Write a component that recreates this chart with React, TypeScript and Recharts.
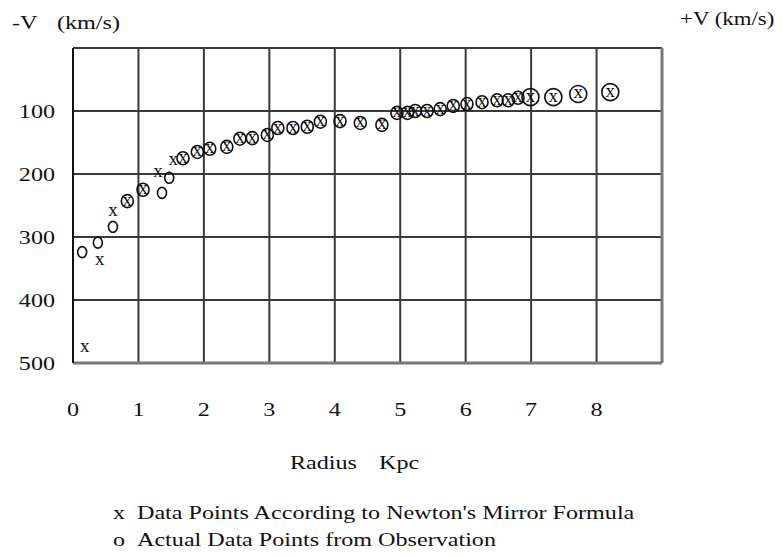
import React from 'react';
import { ScatterChart, Scatter, XAxis, YAxis, CartesianGrid } from 'recharts';

// Newton's mirror formula points (x marks): radius in Kpc, -V in km/s
const radiusNewton = [0.18, 0.41, 0.61, 0.83, 1.07, 1.30, 1.53, 1.68, 1.90, 2.09, 2.35, 2.55, 2.74, 2.97, 3.13, 3.36, 3.58, 3.78, 4.08, 4.39, 4.72, 4.95, 5.11, 5.23, 5.41, 5.61, 5.81, 6.02, 6.25, 6.48, 6.65, 6.80, 6.99, 7.34, 7.72, 8.21];
const velocityNewton = [476, 338, 260, 243, 225, 198, 178, 175, 165, 160, 157, 144, 143, 138, 127, 127, 125, 117, 116, 119, 122, 103, 103, 100, 100, 97, 92, 89, 86, 83, 83, 79, 78, 78, 73, 70];

// Observed points (o marks)
const radiusObserved = [0.14, 0.38, 0.61, 0.83, 1.07, 1.36, 1.47, 1.68, 1.90, 2.09, 2.35, 2.55, 2.74, 2.97, 3.13, 3.36, 3.58, 3.78, 4.08, 4.39, 4.72, 4.95, 5.11, 5.23, 5.41, 5.61, 5.81, 6.02, 6.25, 6.48, 6.65, 6.80, 6.99, 7.34, 7.72, 8.21];
const velocityObserved = [324, 309, 284, 243, 225, 230, 206, 175, 165, 160, 157, 144, 143, 138, 127, 127, 125, 117, 116, 119, 122, 103, 103, 100, 100, 97, 92, 89, 86, 83, 83, 79, 78, 78, 73, 70];

const xTickValues = [0, 1, 2, 3, 4, 5, 6, 7, 8, 9];
const xTickLabels = ['0', '1', '2', '3', '4', '5', '6', '7', '8', ''];
const leftTickValues = [0, 100, 200, 300, 400, 500];
const leftTickLabels = ['', '100', '200', '300', '400', '500'];
const rightTickValues = [60, 124, 187, 256, 348];
const rightTickLabels = ['80', '60', '40', '20', '0'];

const newtonData = radiusNewton.map((r, i) => ({ r, v: velocityNewton[i] }));
const observedData = radiusObserved.map((r, i) => ({
  r,
  v: velocityObserved[i],
  alone: !newtonData.some((n) => n.r === r && n.v === velocityObserved[i]),
}));

const FONT = "'Liberation Serif', 'Times New Roman', serif";
const SX = 1.27;
const INK = '#111';

function SText({ x, y, anchor = 'start', size = 19, children }: any) {
  return (
    <text
      transform={`translate(${x},${y}) scale(${SX},1)`}
      textAnchor={anchor}
      fontFamily={FONT}
      fontSize={size}
      fill={INK}
    >
      {children}
    </text>
  );
}

const XTick = (props: any) => {
  const { x, y, payload } = props;
  const idx = xTickValues.indexOf(payload.value);
  return <SText x={x} y={y + 53} anchor="middle">{xTickLabels[idx]}</SText>;
};

const LeftTick = (props: any) => {
  const { x, y, payload } = props;
  const idx = leftTickValues.indexOf(payload.value);
  return <SText x={x - 18} y={y + 6.5} anchor="end">{leftTickLabels[idx]}</SText>;
};

const RightTick = (props: any) => {
  const { x, y, payload } = props;
  const idx = rightTickValues.indexOf(payload.value);
  return <SText x={x + 29} y={y + 6.5} anchor="end">{rightTickLabels[idx]}</SText>;
};

const NewtonMark = (props: any) => {
  const { cx, cy } = props;
  return (
    <text x={cx} y={cy} dy={4.5} textAnchor="middle" fontFamily={FONT} fontSize={19} fill={INK}>
      x
    </text>
  );
};

const ObservedMark = (props: any) => {
  const { cx, cy, payload } = props;
  const big = payload && payload.r >= 6.9;
  const alone = payload && payload.alone;
  const rx = big ? 8.5 : alone ? 4.5 : 6;
  const ry = big ? 8.5 : alone ? 5.5 : 6.5;
  return (
    <ellipse cx={cx} cy={cy} rx={rx} ry={ry} fill="none" stroke={INK} strokeWidth={1.6} />
  );
};

export default function App() {
  const W = 766;
  const H = 541;
  return (
    <div style={{ position: 'relative', width: W, height: H }}>
      <ScatterChart width={W} height={H} margin={{ top: 40, right: 0, bottom: 66, left: 0 }}>
        <CartesianGrid yAxisId="left" stroke="#3a3a3a" strokeWidth={2} fill="#fff" />
        <XAxis
          type="number"
          dataKey="r"
          domain={[0, 9]}
          ticks={xTickValues}
          interval={0}
          height={120}
          tickSize={0}
          tickMargin={0}
          tickLine={false}
          tick={<XTick />}
          axisLine={{ stroke: '#777', strokeWidth: 3 }}
        />
        <YAxis
          yAxisId="left"
          type="number"
          dataKey="v"
          domain={[0, 500]}
          reversed
          ticks={leftTickValues}
          interval={0}
          width={65}
          tickSize={0}
          tickMargin={0}
          tickLine={false}
          tick={<LeftTick />}
          axisLine={{ stroke: '#111', strokeWidth: 2 }}
        />
        <YAxis
          yAxisId="right"
          orientation="right"
          type="number"
          domain={[0, 500]}
          reversed
          ticks={rightTickValues}
          interval={0}
          width={112}
          tickSize={14}
          tickMargin={0}
          tickLine={{ stroke: '#111', strokeWidth: 2 }}
          tick={<RightTick />}
          axisLine={{ stroke: '#777', strokeWidth: 3 }}
        />
        <Scatter
          name="Actual Data Points from Observation"
          yAxisId="left"
          data={observedData}
          shape={<ObservedMark />}
          isAnimationActive={false}
        />
        <Scatter
          name="Data Points According to Newton's Mirror Formula"
          yAxisId="left"
          data={newtonData}
          shape={<NewtonMark />}
          isAnimationActive={false}
        />
      </ScatterChart>
      <svg
        width={774}
        height={549}
        style={{ position: 'absolute', left: 0, top: 0, pointerEvents: 'none' }}
      >
        <SText x={4} y={21}>-V</SText>
        <SText x={49} y={21}>(km/s)</SText>
        <SText x={672} y={17} size={18}>+V (km/s)</SText>
        <SText x={282} y={461}>Radius</SText>
        <SText x={371} y={461}>Kpc</SText>
        <SText x={105} y={511}>x</SText>
        <SText x={129} y={511}>Data Points According to Newton's Mirror Formula</SText>
        <SText x={105} y={538}>o</SText>
        <SText x={129} y={538}>Actual Data Points from Observation</SText>
      </svg>
    </div>
  );
}
